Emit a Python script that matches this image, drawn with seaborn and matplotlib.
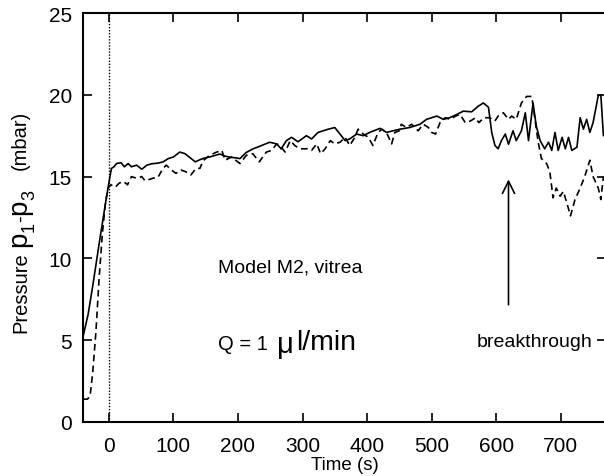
import numpy as np
import pandas as pd
import matplotlib
matplotlib.use("Agg")
import matplotlib.pyplot as plt
import matplotlib.transforms as mtransforms
import seaborn as sns

# ---- data ----
solid_t = [-40, -32, -25, -15, -5, 0, 4, 8, 12, 19, 24, 30, 35, 43, 51, 59, 66, 77, 84, 92,
           100, 110, 118, 126, 134, 142, 150, 156, 165, 172, 180, 188, 196, 203, 213, 223, 236, 249, 260, 267,
           275, 283, 293, 306, 314, 324, 340, 350, 358, 366, 373, 384, 394, 404, 420, 430, 440, 451, 466, 482,
           492, 508, 518, 528, 539, 549, 562, 572, 580, 588, 593, 598, 603, 608, 614, 619, 626, 631, 639, 645,
           650, 657, 662, 668, 675, 681, 686, 691, 696, 702, 707, 712, 717, 725, 730, 735, 740, 745, 750, 758,
           762, 766]
solid_p = [5.2, 6.6, 8.3, 10.9, 13.4, 14.6, 15.5, 15.6, 15.8, 15.85, 15.6, 15.8, 15.6, 15.7, 15.45, 15.7, 15.78, 15.83, 15.9, 16.1,
           16.2, 16.5, 16.4, 16.15, 15.9, 16.05, 16.15, 16.2, 16.3, 16.38, 16.25, 16.18, 16.15, 16.1, 16.48, 16.69, 16.89, 17.1, 17.0, 16.69,
           17.2, 17.4, 17.13, 17.5, 17.3, 17.7, 17.9, 18.0, 17.6, 17.2, 17.3, 17.6, 17.5, 17.7, 17.95, 17.7, 17.8, 17.9, 18.0, 18.2,
           18.5, 18.7, 18.5, 18.6, 18.8, 19.0, 18.96, 19.3, 19.5, 19.24, 17.7, 16.9, 16.7, 17.2, 17.6, 16.98, 17.8, 17.2, 17.8, 18.9,
           17.2, 19.5, 18.1, 17.2, 16.7, 17.1, 16.6, 17.7, 16.6, 17.4, 16.7, 17.4, 16.6, 16.8, 18.6, 17.9, 18.5, 17.7, 18.3, 19.95,
           20.0, 17.5]

dashed_t = [-40, -33, -29, -25, -20, -15, -10, -5, -1, 3, 10, 16, 23, 29, 35, 43, 51, 56, 61, 68,
            76, 84, 89, 97, 104, 112, 119, 127, 135, 141, 146, 156, 167, 175, 180, 190, 203, 213, 223, 233,
            244, 252, 260, 265, 273, 281, 288, 296, 307, 314, 322, 328, 335, 343, 350, 358, 366, 373, 381, 386,
            394, 402, 409, 417, 423, 430, 438, 443, 450, 453, 461, 469, 479, 487, 495, 500, 506, 513, 521, 529,
            537, 544, 552, 560, 568, 573, 581, 590, 598, 603, 611, 619, 624, 631, 639, 647, 655, 660, 665, 670,
            678, 683, 688, 693, 699, 704, 710, 715, 722, 730, 737, 745, 750, 758, 762, 766]
dashed_p = [1.4, 1.4, 1.6, 3.0, 5.5, 8.8, 11.5, 13.5, 14.3, 14.5, 14.35, 14.6, 14.7, 14.5, 15.0, 14.9, 15.0, 14.75, 14.8, 14.9,
            14.95, 15.5, 15.7, 15.4, 15.2, 15.4, 15.3, 15.1, 15.5, 15.5, 15.97, 16.3, 16.5, 16.6, 16.0, 16.2, 15.8, 16.3, 16.4, 15.9,
            16.5, 16.6, 17.0, 16.9, 16.5, 17.2, 16.9, 16.7, 16.7, 16.6, 17.0, 16.4, 16.7, 17.2, 17.0, 17.1, 17.4, 16.9, 17.4, 17.9,
            17.6, 17.4, 16.9, 17.7, 17.9, 17.7, 17.0, 17.7, 17.8, 18.2, 18.0, 18.2, 17.8, 18.2, 18.0, 17.7, 17.6, 18.3, 18.6, 18.5,
            18.7, 18.8, 18.3, 18.4, 18.6, 18.3, 18.6, 18.6, 18.4, 18.7, 18.9, 18.5, 18.7, 18.5, 19.5, 19.9, 19.9, 18.5, 17.1, 16.1,
            15.8, 15.3, 13.7, 14.3, 13.8, 14.1, 13.3, 12.6, 13.6, 14.3, 15.0, 16.0, 15.0, 14.3, 13.6, 15.0]

x_ticks = [0, 100, 200, 300, 400, 500, 600, 700]
y_ticks = [0, 5, 10, 15, 20, 25]

df_s = pd.DataFrame({"t": solid_t, "p": solid_p})
df_d = pd.DataFrame({"t": dashed_t, "p": dashed_p})

sns.set_style("ticks")
plt.rcParams["font.family"] = ["Liberation Sans", "DejaVu Sans"]
plt.rcParams["text.color"] = "black"
plt.rcParams["axes.labelcolor"] = "black"
plt.rcParams["xtick.color"] = "black"
plt.rcParams["ytick.color"] = "black"

fig = plt.figure(figsize=(6.04, 4.77), dpi=100)
ax = fig.add_axes([83 / 604, 54 / 477, 523 / 604, 409 / 477])

sns.lineplot(data=df_s, x="t", y="p", ax=ax, color="black", lw=1.2, sort=False)
sns.lineplot(data=df_d, x="t", y="p", ax=ax, color="black", lw=1.2, sort=False,
             linestyle=(0, (4, 2.5)))

ax.axvline(0, color="black", lw=1.0, ls=(0, (1, 1.2)))

ax.set_xlim(-40, 770)
ax.set_ylim(0, 25)
ax.set_xticks(x_ticks)
ax.set_yticks(y_ticks)
ax.tick_params(direction="in", length=6.5, width=1.2, labelsize=15,
               top=True, right=True, colors="black")
ax.tick_params(axis="x", pad=10)
ax.tick_params(axis="y", pad=8)
for s in ax.spines.values():
    s.set_linewidth(1.5)
    s.set_color("black")

ax.set_xlabel("Time (s)", fontsize=13.5, labelpad=0.5)
ax.set_ylabel("")

ax.text(169, 9.45, "Model M2, vitrea", fontsize=14, va="center", ha="left")
ax.text(570, 4.95, "breakthrough", fontsize=14, va="center", ha="left")
ax.annotate("", xy=(619, 15.0), xytext=(619, 7.0),
            arrowprops=dict(arrowstyle="->", lw=1.2, color="black", mutation_scale=22))

fig.canvas.draw()
r = fig.canvas.get_renderer()
ident = mtransforms.IdentityTransform()

# "Q = 1 µ l/min" chained horizontally (pixels, origin bottom-left)
xq = 218
yq = 477 - 350
for txt, size, dy, gap in [("Q = 1", 14.5, 0, 9), ("\u03bc", 21, -3, 2), ("l/min", 20.5, 0, 0)]:
    t = fig.text(xq, yq + dy, txt, fontsize=size, ha="left", va="baseline", transform=ident)
    bb = t.get_window_extent(renderer=r)
    xq = bb.x1 + gap

# composite y label, rotated
pieces = [("Pressure", 14.5, 0, 5), ("p", 20, 0, 0), ("1", 13, 8, 0), ("-", 14.5, 0, 0),
          ("p", 20, 0, 0), ("3", 13, 8, 20), ("(mbar)", 14.5, 0, 0)]
xb = 26
y = 477 - 333
for txt, size, dx, gap in pieces:
    t = fig.text(xb + dx, y, txt, fontsize=size, rotation=90, rotation_mode="anchor",
                 ha="left", va="baseline", transform=ident)
    bb = t.get_window_extent(renderer=r)
    y = bb.y1 + gap

fig.savefig("out.png", dpi=100)
